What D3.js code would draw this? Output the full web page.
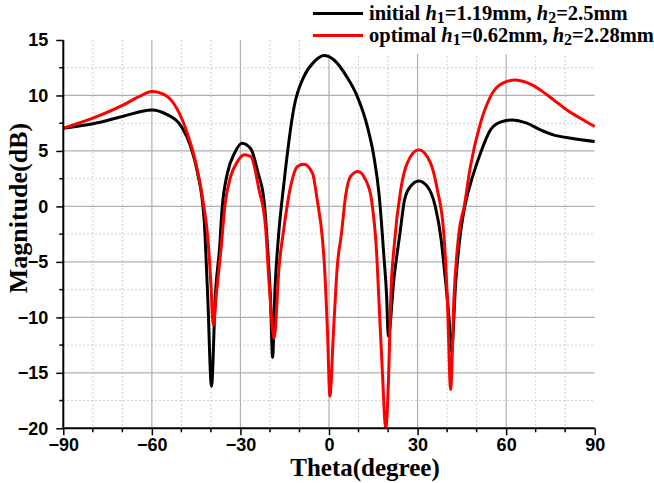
<!DOCTYPE html>
<html><head><meta charset="utf-8">
<script src="https://cdn.jsdelivr.net/npm/d3@7"></script>
<style>
html,body{margin:0;padding:0;background:#fff;}
svg{display:block;}
</style></head>
<body>
<svg id="chart" width="654" height="483"></svg>
<script>
// ---- data ----
const initialTheta = [-90,-80,-70,-60,-55,-50,-47,-44.5,-42.3,-41.1,-39.8,-38.5,-37,-36.3,-34.4,-32,-29.5,-26.5,-24,-22,-20.5,-19.8,-19.1,-18.3,-17.2,-15.3,-11.8,-8.5,-5,-1.7,1.7,6,9.6,13,15.2,17,18.6,19.5,20.1,22,24,25.6,27.6,30.4,33.3,36,38,39,40.6,41.5,42.9,44.5,46,49,51.3,54.7,58,62,67,71.6,76,82,90];
const initialMag   = [7.05,7.45,8.1,8.7,8.3,7.2,5.5,3.0,-1.2,-8.0,-16.2,-8.0,-3.5,-0.5,3.0,4.8,5.7,5.2,3.0,0.5,-5,-8.4,-13.6,-7.5,-3.0,2.0,9.0,11.7,13.05,13.6,13.2,11.7,9.9,7.2,4.5,1.0,-4.5,-8,-11.7,-6.5,-2.5,0.6,1.8,2.3,1.8,0,-3,-5.5,-9.9,-13.1,-6.9,-2.5,0,3,4.8,6.9,7.6,7.8,7.5,6.9,6.45,6.15,5.85];
const optimalTheta = [-90,-80,-70,-64,-60,-55,-51.3,-48,-45.1,-42.5,-41,-40,-39.2,-38,-36.6,-35.2,-33.3,-31,-28.7,-26.5,-23.7,-21.5,-20.3,-18.6,-16.9,-15.3,-13,-10.7,-8.5,-5.6,-4,-2.2,-1.5,-0.5,0.3,1.5,2.8,4.2,5.6,7.3,9.8,12.4,14.4,16.2,16.9,18.1,19.2,20.3,20.9,22.2,24.3,26.5,30.4,34.4,36.7,38.9,40.1,41.2,42.3,44,45.8,47.9,51.3,54.7,55.8,59.2,63.2,67.1,71.6,76.1,80.6,85.1,90];
const optimalMag   = [7.05,7.95,9.1,9.95,10.35,9.95,8.7,6.6,3.9,0.2,-3,-7,-10.7,-7.5,-3.9,0.2,2.7,4.05,4.65,4.5,1.5,-1.8,-6.9,-11.9,-5.4,-2.0,1.8,3.6,3.8,3.0,0.6,-3,-5.5,-11.4,-17.1,-11.4,-5.4,-2.5,0.9,2.7,3.15,2.4,0.6,-4.5,-8.4,-15,-20,-14.4,-8.4,-3.2,1.5,3.9,5.1,3.9,1.5,-2.5,-8.4,-16.5,-8.4,-2.4,0,3.6,7.5,9.9,10.4,11.15,11.4,11.15,10.5,9.6,8.7,7.95,7.2];
const xTickValues = [-90,-60,-30,0,30,60,90];
const yTickValues = [-20,-15,-10,-5,0,5,10,15];
const seriesNames = ["initial", "optimal"];

// ---- layout ----
const svg = d3.select("#chart");
const x = d3.scaleLinear().domain([-90, 90]).range([63.3, 594.7]);
const y = d3.scaleLinear().domain([-20, 15]).range([428.3, 40]);

// grid
const grid = svg.append("g");
const minorX = d3.range(-80, 90, 10).filter(v => v % 30 !== 0);
const majorX = [-60, -30, 0, 30, 60];
const minorY = d3.range(-17.5, 15, 5);
const majorY = [-15, -10, -5, 0, 5, 10];
grid.selectAll(".mx").data(minorX).join("line")
  .attr("x1", d => x(d)).attr("x2", d => x(d)).attr("y1", y(15)).attr("y2", y(-20))
  .attr("stroke", "#c4c4c4").attr("stroke-width", 1).attr("stroke-dasharray", "1.5,2.5");
grid.selectAll(".my").data(minorY).join("line")
  .attr("y1", d => y(d)).attr("y2", d => y(d)).attr("x1", x(-90)).attr("x2", x(90))
  .attr("stroke", "#c4c4c4").attr("stroke-width", 1).attr("stroke-dasharray", "1.5,2.5");
grid.selectAll(".Mx").data(majorX).join("line")
  .attr("x1", d => x(d)).attr("x2", d => x(d)).attr("y1", y(15)).attr("y2", y(-20))
  .attr("stroke", "#b0b0b0").attr("stroke-width", 1.2);
grid.selectAll(".My").data(majorY).join("line")
  .attr("y1", d => y(d)).attr("y2", d => y(d)).attr("x1", x(-90)).attr("x2", x(90))
  .attr("stroke", "#b0b0b0").attr("stroke-width", 1.2);

// legend background (hides grid tops)
svg.append("rect").attr("x", 305).attr("y", 0).attr("width", 349).attr("height", 54).attr("fill", "#fff");

// curves
const line = d3.line().x(d => x(d[0])).y(d => y(d[1])).curve(d3.curveMonotoneX);
const initialData = initialTheta.map((t, i) => [t, initialMag[i]]);
const optimalData = optimalTheta.map((t, i) => [t, optimalMag[i]]);
const clip = svg.append("clipPath").attr("id", "clip").append("rect")
  .attr("x", x(-90)).attr("y", y(15) - 5).attr("width", x(90) - x(-90) + 2).attr("height", y(-20) - y(15) + 6);
const curves = svg.append("g").attr("clip-path", "url(#clip)");
curves.append("path").datum(initialData).attr("d", line)
  .attr("fill", "none").attr("stroke", "#000").attr("stroke-width", 3).attr("stroke-linejoin", "round");
curves.append("path").datum(optimalData).attr("d", line)
  .attr("fill", "none").attr("stroke", "#ff0000").attr("stroke-width", 3).attr("stroke-linejoin", "round");

// axes
const fontTick = "'Liberation Sans', Arial, sans-serif";
const xAxis = svg.append("g").attr("transform", `translate(0,${y(-20)})`)
  .call(d3.axisBottom(x).tickValues(xTickValues).tickSize(7).tickPadding(3).tickFormat(d3.format("d")));
xAxis.append("g").selectAll("line").data(d3.range(-80, 90, 10).filter(v => v % 30 !== 0)).join("line")
  .attr("x1", d => x(d)).attr("x2", d => x(d)).attr("y1", 0).attr("y2", 4).attr("stroke", "#000").attr("stroke-width", 1.5);
const yAxis = svg.append("g").attr("transform", `translate(${x(-90)},0)`)
  .call(d3.axisLeft(y).tickValues(yTickValues).tickSize(7).tickPadding(8).tickFormat(d3.format("d")));
yAxis.append("g").selectAll("line").data(d3.range(-17.5, 15, 5)).join("line")
  .attr("y1", d => y(d)).attr("y2", d => y(d)).attr("x1", 0).attr("x2", -4).attr("stroke", "#000").attr("stroke-width", 1.5);
[xAxis, yAxis].forEach(a => {
  a.select(".domain").attr("stroke", "#000").attr("stroke-width", 2);
  a.selectAll(".tick line").attr("stroke", "#000").attr("stroke-width", 1.5);
  a.selectAll(".tick text").attr("fill", "#000").attr("font-family", fontTick)
    .attr("font-weight", "bold").attr("font-size", 18);
});
xAxis.select(".domain").attr("d", `M${x(-90)},0H${x(90)}`);
yAxis.select(".domain").attr("d", `M0,${y(15)}V${y(-20)}`);

// axis titles
const fontTitle = "'Liberation Serif', 'Times New Roman', serif";
svg.append("text").attr("x", 365).attr("y", 476).attr("text-anchor", "middle")
  .attr("font-family", fontTitle).attr("font-weight", "bold").attr("font-size", 25).attr("fill", "#000")
  .text("Theta(degree)");
svg.append("text").attr("transform", "translate(27,208) rotate(-90)").attr("text-anchor", "middle")
  .attr("font-family", fontTitle).attr("font-weight", "bold").attr("font-size", 26).attr("fill", "#000")
  .text("Magnitude(dB)");

// legend
const legendItems = [
  {name: seriesNames[0], color: "#000", ly: 13.5, parts: ["initial ", "1", "=1.19mm, ", "2", "=2.5mm"]},
  {name: seriesNames[1], color: "#ff0000", ly: 35.5, parts: ["optimal ", "1", "=0.62mm, ", "2", "=2.28mm"]}
];
const lg = svg.append("g");
legendItems.forEach(it => {
  lg.append("line").attr("x1", 313).attr("x2", 363).attr("y1", it.ly).attr("y2", it.ly)
    .attr("stroke", it.color).attr("stroke-width", 3);
  const t = lg.append("text").attr("x", 369).attr("y", it.ly + 6)
    .attr("font-family", fontTitle).attr("font-weight", "bold").attr("font-size", 20.5).attr("fill", "#000");
  t.append("tspan").text(it.parts[0]);
  t.append("tspan").attr("font-style", "italic").text("h");
  t.append("tspan").attr("font-size", 16).attr("dy", 3).text(it.parts[1]);
  t.append("tspan").attr("dy", -3).text(it.parts[2]);
  t.append("tspan").attr("font-style", "italic").text("h");
  t.append("tspan").attr("font-size", 16).attr("dy", 3).text(it.parts[3]);
  t.append("tspan").attr("dy", -3).text(it.parts[4]);
});
</script>
</body></html>
